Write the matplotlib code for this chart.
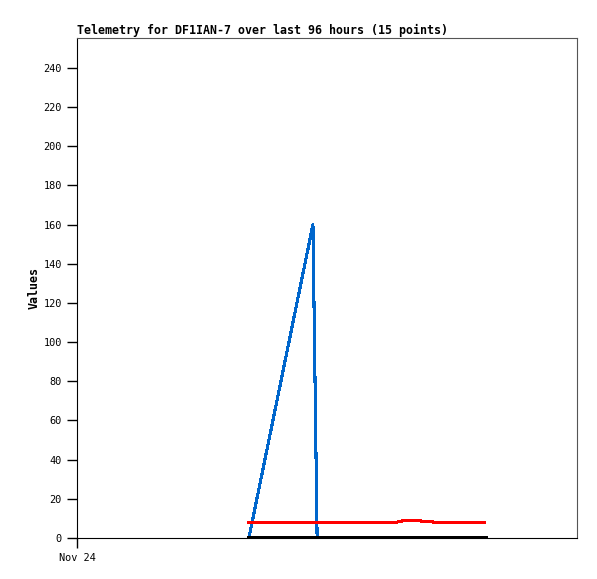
import matplotlib
matplotlib.use("Agg")
import matplotlib.pyplot as plt

# hours since start of the 96 h window (Nov 24 00:00)
hours = [33.0, 45.3, 46.1, 50.0, 54.0, 58.0, 61.25, 63.0, 64.7, 69.1, 71.0, 73.0, 75.0, 77.0, 78.3]
blue_vals = [0, 160, 0, 0, 0, 0, 0, 0, 0, 0, 0, 0, 0, 0, 0]
red_vals = [8, 8, 8, 8, 8, 8, 8, 9, 9, 8, 8, 8, 8, 8, 8]
black_vals = [0] * 15

y_ticks = list(range(0, 241, 20))
x_tick_pos = [0]
x_tick_labels = ["Nov 24"]

fig = plt.figure(figsize=(5.97, 5.79), dpi=100)
ax = fig.add_axes([77 / 597, 41 / 579, 500 / 597, 500 / 579])

lw = 1.5  # about 2 px
ax.plot(hours, blue_vals, color="#0066cc", lw=lw, antialiased=False, zorder=3)
ax.plot(hours, red_vals, color="#ff0000", lw=lw, antialiased=False, zorder=4)
ax.plot(hours, black_vals, color="black", lw=2.2, antialiased=False, zorder=5)

ax.set_xlim(0, 96)
ax.set_ylim(0, 255.3)
ax.set_yticks(y_ticks)
ax.set_xticks(x_tick_pos)
ax.set_xticklabels(x_tick_labels)

mono = "DejaVu Sans Mono"
for lab in ax.get_yticklabels() + ax.get_xticklabels():
    lab.set_fontfamily(mono)
    lab.set_fontsize(7.4)
ax.tick_params(direction="out", length=7, width=1, pad=4, colors="black")

for s in ["left", "bottom"]:
    ax.spines[s].set_color("black")
for s in ["top", "right"]:
    ax.spines[s].set_color("#555555")

ax.set_title("Telemetry for DF1IAN-7 over last 96 hours (15 points)", family=mono,
             fontweight="bold", fontsize=8.4, loc="left", pad=3)
ax.set_ylabel("Values", family=mono, fontweight="bold", fontsize=8.4, labelpad=2)

fig.savefig("out.png", dpi=100)
